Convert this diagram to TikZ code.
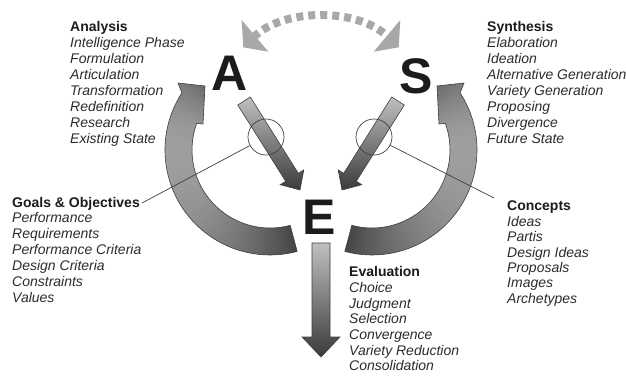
\documentclass[tikz,border=0pt]{standalone}
\usepackage{fontspec}
\setmainfont{Liberation Sans}
\definecolor{dashcol}{HTML}{A8A8A8}
\definecolor{headcol}{HTML}{1C1C1C}
\definecolor{itemcol}{HTML}{2C2C2C}
\definecolor{shtop}{HTML}{C0C0C0}
\definecolor{shbot}{HTML}{3A3A3A}
\begin{document}
\begin{tikzpicture}[x=1pt,y=-1pt,
  txt/.style={anchor=base west, align=left, inner sep=0pt, text=itemcol},
  big/.style={font=\fontsize{50}{50}\selectfont\bfseries, text=headcol, inner sep=0pt},
  outl/.style={draw=black!75, line width=0.6pt},
  lead/.style={draw=black!75, line width=0.7pt},
  ring/.style={circle, draw=black!75, line width=0.7pt, minimum size=36pt, inner sep=0pt},
  dashline/.style={draw=dashcol, line width=8pt, dash pattern=on 7pt off 5pt, dash phase=2pt}]
\useasboundingbox (0,0) rectangle (626,378);
\fill[white] (0,0) rectangle (626,378);

% top dashed double arrow
\draw[dashline] (255,36) .. controls (285,8) and (357,8) .. (387,36);
\fill[dashcol] (241.7,20) -- (243.3,47.3) -- (268.3,51.7) -- cycle;
\fill[dashcol] (400.3,20) -- (398.7,47.3) -- (373.7,51.7) -- cycle;

% left curved arrow
\begin{scope}
\clip ([shift={(270,150)}]75:78) arc[start angle=75,end angle=200,radius=78]
  -- (203,124) -- (205,86) -- (178,83) -- ([shift={(270,150)}]213:105)
  arc[start angle=213,end angle=75,radius=105] -- cycle;
\foreach \a in {68,70,...,234}{
  \pgfmathsetmacro\g{\a<180 ? 0.62-0.34*((\a-180)/105)^2 : max(0.36,0.62-0.22*((\a-180)/45)^2)}
  \pgfmathsetmacro\b{\a+2.6}
  \definecolor{cc}{gray}{\g}
  \fill[cc] (270,150) -- ([shift={(270,150)}]\a:135) arc[start angle=\a,end angle=\b,radius=135] -- cycle;
}
\end{scope}
\draw[outl] ([shift={(270,150)}]75:78) arc[start angle=75,end angle=200,radius=78]
  -- (203,124) -- (205,86) -- (178,83) -- ([shift={(270,150)}]213:105)
  arc[start angle=213,end angle=75,radius=105] -- cycle;

% right curved arrow
\begin{scope}
\clip ([shift={(372,150)}]105:78) arc[start angle=105,end angle=-20,radius=78]
  -- (439,124) -- (437,86) -- (464,83) -- ([shift={(372,150)}]-33:105)
  arc[start angle=-33,end angle=105,radius=105] -- cycle;
\foreach \a in {68,70,...,234}{
  \pgfmathsetmacro\g{\a<180 ? 0.62-0.34*((\a-180)/105)^2 : max(0.36,0.62-0.22*((\a-180)/45)^2)}
  \pgfmathsetmacro\s{180-\a-2.6}
  \pgfmathsetmacro\e{180-\a}
  \definecolor{cc}{gray}{\g}
  \fill[cc] (372,150) -- ([shift={(372,150)}]\s:135) arc[start angle=\s,end angle=\e,radius=135] -- cycle;
}
\end{scope}
\draw[outl] ([shift={(372,150)}]105:78) arc[start angle=105,end angle=-20,radius=78]
  -- (439,124) -- (437,86) -- (464,83) -- ([shift={(372,150)}]-33:105)
  arc[start angle=-33,end angle=105,radius=105] -- cycle;

% diagonal arrows
\shade[top color=shtop, bottom color=shbot] (250.3,97.0) -- (298.3,173.3) -- (303.8,169.9) -- (300,190)
  -- (280.2,184.7) -- (285.7,181.3) -- (237.7,105.0) -- cycle;
\draw[outl] (250.3,97.0) -- (298.3,173.3) -- (303.8,169.9) -- (300,190)
  -- (280.2,184.7) -- (285.7,181.3) -- (237.7,105.0) -- cycle;
\shade[top color=shtop, bottom color=shbot] (391.7,97.0) -- (343.7,173.3) -- (338.2,169.9) -- (342,190)
  -- (361.8,184.7) -- (356.3,181.3) -- (404.3,105.0) -- cycle;
\draw[outl] (391.7,97.0) -- (343.7,173.3) -- (338.2,169.9) -- (342,190)
  -- (361.8,184.7) -- (356.3,181.3) -- (404.3,105.0) -- cycle;

% down arrow
\shade[top color=shtop, bottom color=shbot] (312,243) -- (330,243) -- (330,337) -- (340,337)
  -- (321,357) -- (302,337) -- (312,337) -- cycle;
\draw[outl] (312,243) -- (330,243) -- (330,337) -- (340,337)
  -- (321,357) -- (302,337) -- (312,337) -- cycle;

% letters
\node[big] (A) at (230,73) {A};
\node[big] (S) at (416,76) {S};
\node[big] (E) at (319,217) {E};

% circles and leader lines
\node[ring] (cl) at (266,137) {};
\node[ring] (cr) at (374,137) {};
\coordinate (gl) at (142,203);
\coordinate (gr) at (494,198);
\draw[lead] (cl) -- (gl);
\draw[lead] (cr) -- (gr);

% text blocks (anchored at the baseline of their last line)
\node[txt, font=\fontsize{14}{16}\selectfont] (an) at (70,143.7) {\textcolor{headcol}{\textbf{Analysis}}\\ \textit{Intelligence Phase}\\ \textit{Formulation}\\ \textit{Articulation}\\ \textit{Transformation}\\ \textit{Redefinition}\\ \textit{Research}\\ \textit{Existing State}};
\node[txt, font=\fontsize{14}{16}\selectfont] (sy) at (487,143.7) {\textcolor{headcol}{\textbf{Synthesis}}\\ \textit{Elaboration}\\ \textit{Ideation}\\ \textit{Alternative Generation}\\ \textit{Variety Generation}\\ \textit{Proposing}\\ \textit{Divergence}\\ \textit{Future State}};
\node[txt, font=\fontsize{14}{15.95}\selectfont] (go) at (12,302.7) {\textcolor{headcol}{\textbf{Goals \& Objectives}}\\ \textit{Performance}\\ \textit{Requirements}\\ \textit{Performance Criteria}\\ \textit{Design Criteria}\\ \textit{Constraints}\\ \textit{Values}};
\node[txt, font=\fontsize{14}{15.45}\selectfont] (co) at (507,303.4) {\textcolor{headcol}{\textbf{Concepts}}\\ \textit{Ideas}\\ \textit{Partis}\\ \textit{Design Ideas}\\ \textit{Proposals}\\ \textit{Images}\\ \textit{Archetypes}};
\node[txt, font=\fontsize{14}{15.67}\selectfont] (ev) at (349,370.7) {\textcolor{headcol}{\textbf{Evaluation}}\\ \textit{Choice}\\ \textit{Judgment}\\ \textit{Selection}\\ \textit{Convergence}\\ \textit{Variety Reduction}\\ \textit{Consolidation}};
\end{tikzpicture}
\end{document}
